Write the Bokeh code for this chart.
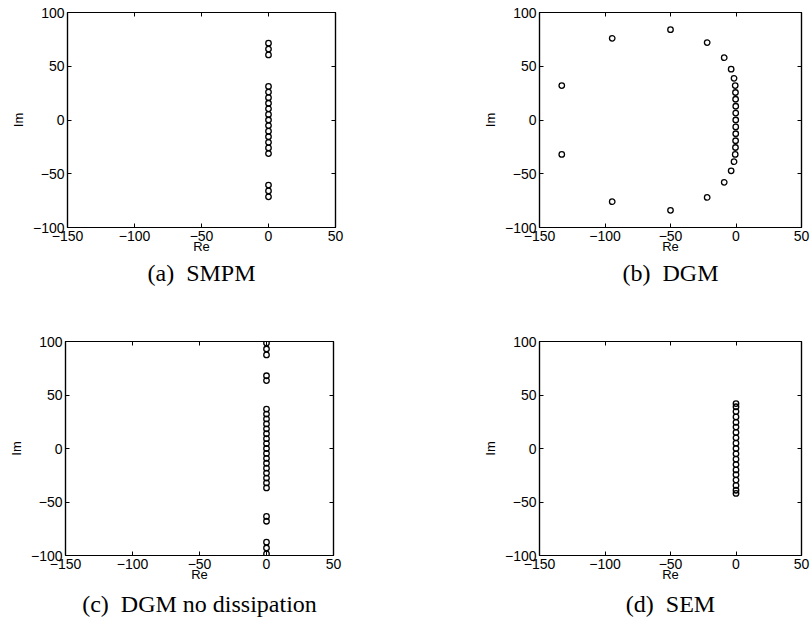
from bokeh.plotting import figure
from bokeh.models import Range1d, FixedTicker, LinearAxis, Title
from bokeh.layouts import column, row
from bokeh.embed import file_html
from bokeh.resources import INLINE

# Eigenvalue spectra (real and imaginary parts) for the four discretisations
smpm_re = [0.0, 0.0, 0.0, 0.0, 0.0, 0.0, 0.0, 0.0, 0.0, 0.0, 0.0,
           0.0, 0.0, 0.0, 0.0, 0.0, 0.0, 0.0, 0.0]
smpm_im = [71.5, 66.0, 60.5, 31.2, 26.0, 20.8, 15.6, 10.4, 5.2, 0.0, -5.2,
           -10.4, -15.6, -20.8, -26.0, -31.2, -60.5, -66.0, -71.5]

dgm_re = [-133.0, -94.5, -50.0, -22.0, -9.0, -3.7, -1.5, -0.6, -0.4, -0.3,
          -0.2, -0.2, -0.2, -0.2, -0.2, -0.3, -0.4, -0.6, -1.5, -3.7, -9.0,
          -22.0, -50.0, -94.5, -133.0]
dgm_im = [32.0, 76.0, 84.0, 72.0, 58.0, 47.3, 38.8, 32.0, 25.6, 19.3, 12.8,
          6.4, 0.0, -6.4, -12.8, -19.3, -25.6, -32.0, -38.8, -47.3, -58.0,
          -72.0, -84.0, -76.0, -32.0]

dgmnd_re = [0.0, 0.0, 0.0, 0.0, 0.0, 0.0, 0.0, 0.0, 0.0, 0.0, 0.0, 0.0, 0.0,
            0.0, 0.0, 0.0, 0.0, 0.0, 0.0, 0.0, 0.0, 0.0, 0.0, 0.0, 0.0, 0.0,
            0.0]
dgmnd_im = [98.5, 93.0, 87.5, 68.0, 63.5, 36.8, 32.2, 27.6, 23.0, 18.4, 13.8,
            9.2, 4.6, 0.0, -4.6, -9.2, -13.8, -18.4, -23.0, -27.6, -32.2,
            -36.8, -63.5, -68.0, -87.5, -93.0, -98.5]

sem_re = [0.0, 0.0, 0.0, 0.0, 0.0, 0.0, 0.0, 0.0, 0.0, 0.0, 0.0, 0.0, 0.0,
          0.0, 0.0, 0.0, 0.0, 0.0, 0.0]
sem_im = [42.0, 39.0, 34.5, 29.5, 24.5, 20.0, 15.0, 10.0, 5.0, 0.0, -5.0,
          -10.0, -15.0, -20.0, -24.5, -29.5, -34.5, -39.0, -42.0]

x_ticks = [-150, -100, -50, 0, 50]
y_ticks = [-100, -50, 0, 50, 100]
x_labels = {-150: "\u2212150", -100: "\u2212100", -50: "\u221250", 0: "0", 50: "50"}
y_labels = {-100: "\u2212100", -50: "\u221250", 0: "0", 50: "50", 100: "100"}

SANS = "Liberation Sans"
SERIF = "Liberation Serif"


def style_axis(ax, ticks, labels, show_labels=True):
    ax.ticker = FixedTicker(ticks=ticks)
    ax.major_tick_in = 4
    ax.major_tick_out = 0
    ax.minor_tick_in = 0
    ax.minor_tick_out = 0
    ax.axis_line_color = "black"
    ax.axis_line_width = 1.2
    ax.major_tick_line_color = "black"
    if show_labels:
        ax.major_label_overrides = labels
        ax.major_label_text_font = SANS
        ax.major_label_text_font_size = "14px"
        ax.major_label_text_color = "black"
        ax.major_label_standoff = 3
    else:
        # tick marks only: the opposite sides of the box carry no labels
        ax.major_label_text_font_size = "1px"
        ax.major_label_text_color = None
        ax.major_label_standoff = 0


def panel(re, im, caption, w, h, left, right, top, bottom, cap_gap):
    p = figure(width=w, height=h, x_range=Range1d(-150, 50),
               y_range=Range1d(-100, 100), output_backend="svg",
               toolbar_location=None, min_border_left=left,
               min_border_right=right, min_border_top=top,
               min_border_bottom=bottom)
    p.xgrid.visible = False
    p.ygrid.visible = False
    p.outline_line_color = "black"
    p.outline_line_width = 1.2
    p.background_fill_color = "white"
    p.border_fill_color = "white"

    style_axis(p.xaxis[0], x_ticks, x_labels)
    style_axis(p.yaxis[0], y_ticks, y_labels)
    p.xaxis.axis_label = "Re"
    p.yaxis.axis_label = "Im"
    for ax in (p.xaxis[0], p.yaxis[0]):
        ax.axis_label_text_font = SANS
        ax.axis_label_text_font_size = "13px"
        ax.axis_label_text_font_style = "normal"
        ax.axis_label_text_color = "black"
    p.xaxis.axis_label_standoff = -5
    p.yaxis.axis_label_standoff = 4

    top_ax = LinearAxis()
    style_axis(top_ax, x_ticks, x_labels, show_labels=False)
    p.add_layout(top_ax, "above")
    right_ax = LinearAxis()
    style_axis(right_ax, y_ticks, y_labels, show_labels=False)
    p.add_layout(right_ax, "right")

    p.scatter(re, im, marker="circle", size=5.5, fill_color=None,
              line_color="black", line_width=1.3)

    p.add_layout(Title(text=caption, align="center", text_font=SERIF,
                       text_font_size="24px", text_font_style="normal",
                       text_color="black", standoff=cap_gap), "below")
    return p


pa = panel(smpm_re, smpm_im, "(a)\u2002SMPM", 406, 318, 67, 71, 12, 91, 3)
pb = panel(dgm_re, dgm_im, "(b)\u2002DGM", 406, 318, 133, 11, 12, 91, 3)
pc = panel(dgmnd_re, dgmnd_im, "(c)\u2002DGM no dissipation", 406, 319, 65, 73, 23, 82, 9)
pd = panel(sem_re, sem_im, "(d)\u2002SEM", 406, 319, 133, 11, 23, 82, 9)

layout = column(row(pa, pb), row(pc, pd))
open("out.html", "w").write(file_html(layout, INLINE))
